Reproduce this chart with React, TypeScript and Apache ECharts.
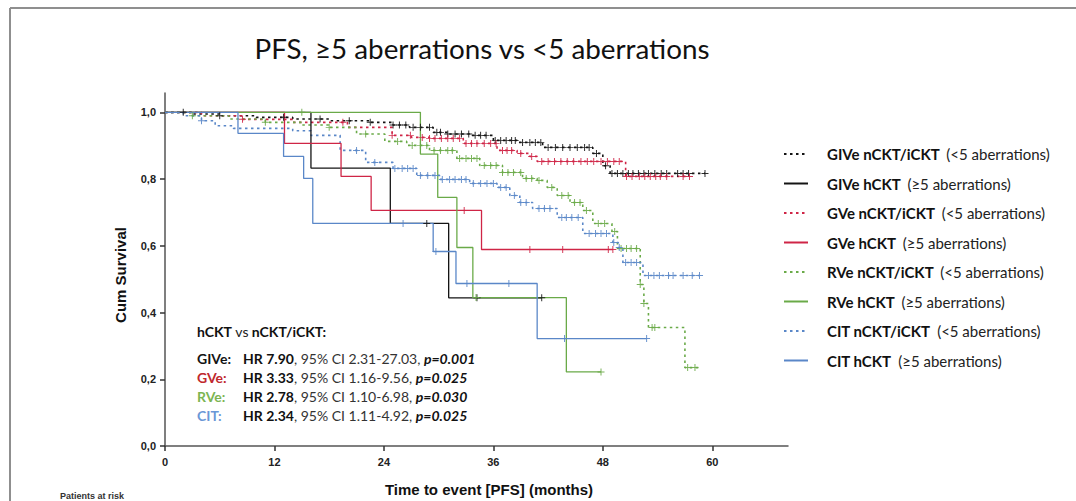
import React, { useEffect, useRef } from "react";
import * as echarts from "echarts";

// ---- Kaplan–Meier step data (months, cumulative survival) ----
// GIVe
const giveNTimes = [0, 3, 6, 10, 14, 18, 22.5, 25, 26.8, 29.4, 31, 33.4, 36, 38.6, 41.4, 46.9, 48, 48.8];
const giveNSurv = [1, 0.995, 0.99, 0.985, 0.98, 0.975, 0.97, 0.962, 0.955, 0.94, 0.935, 0.931, 0.916, 0.91, 0.895, 0.877, 0.84, 0.817];
const giveNEnd = 59.2;
const giveNCens = [2, 6, 13, 17, 20.2, 22.5, 25, 25.7, 26.4, 27.2, 28, 29, 29.8, 30.2, 31, 31.8, 32.5, 33.3, 34, 34.6, 35.2, 36.2, 36.8, 37.4, 38, 38.4, 39.2, 40, 40.6, 41.2, 42, 42.8, 43.6, 44.4, 45.2, 46, 46.5, 47.3, 48.3, 49, 49.6, 50.2, 50.8, 51.3, 51.9, 52.5, 53, 53.7, 54.4, 55, 56.2, 56.8, 57.4, 59.2];

const giveHTimes = [0, 16, 24.7, 31.1];
const giveHSurv = [1, 0.833, 0.667, 0.444];
const giveHEnd = 41.3;
const giveHCens = [28.7, 34.2, 41.3];

// GVe
const gveNTimes = [0, 4, 8.5, 14, 20, 24.9, 27, 29, 32.7, 36.4, 38.6, 40, 40.8, 50.5];
const gveNSurv = [1, 0.99, 0.979, 0.97, 0.955, 0.931, 0.925, 0.922, 0.907, 0.886, 0.877, 0.868, 0.853, 0.808];
const gveNEnd = 57.5;
const gveNCens = [8.5, 19.5, 24.9, 26.9, 28.2, 29, 29.6, 30.3, 31, 31.6, 32.3, 33, 33.6, 34.2, 35, 35.7, 36.3, 37, 37.5, 38, 39, 40.2, 41.3, 42, 42.7, 43.4, 44.1, 44.8, 45.6, 46.3, 47, 47.8, 48.5, 49.2, 49.8, 50.6, 51.2, 52, 52.6, 53.2, 53.8, 54.3, 55, 56.8, 57.5];

const gveHTimes = [0, 13.1, 19.3, 22.6, 34.7];
const gveHSurv = [1, 0.907, 0.808, 0.706, 0.589];
const gveHEnd = 49.1;
const gveHCens = [32.8, 40, 43.6, 48.6, 49.1];

// RVe
const rveNTimes = [0, 3, 7, 11, 15, 18, 21, 24.1, 26.5, 29, 32, 34.5, 37, 39.2, 40.8, 41.9, 43, 44.4, 45.8, 46.9, 49, 49.6, 52.1, 52.5, 53, 57];
const rveNSurv = [1, 0.99, 0.98, 0.97, 0.962, 0.955, 0.935, 0.913, 0.901, 0.886, 0.862, 0.841, 0.82, 0.802, 0.796, 0.775, 0.751, 0.73, 0.706, 0.667, 0.643, 0.592, 0.484, 0.427, 0.355, 0.235];
const rveNEnd = 58.6;
const rveNCens = [3, 11, 18, 22, 25.5, 27.1, 28, 28.7, 29.5, 30.2, 31, 31.5, 32.3, 33, 33.6, 34.2, 35, 35.7, 36.3, 37, 37.6, 38.2, 39, 39.6, 40.2, 41, 42.4, 43.5, 44.2, 44.9, 45.5, 46.2, 47.5, 48.2, 49.3, 50, 50.6, 51.1, 51.7, 52.1, 52.5, 53.4, 53.7, 57.3, 58.1];

const rveHTimes = [0, 28, 29.9, 32, 33.75, 44];
const rveHSurv = [1, 0.875, 0.745, 0.595, 0.445, 0.222];
const rveHEnd = 47.8;
const rveHCens = [15, 34.1, 47.8];

// CIT
const citNTimes = [0, 2, 4, 5.5, 7.5, 14, 16, 19.2, 22, 25, 27.6, 30.1, 33.4, 36.4, 37.8, 38.9, 40.3, 43, 45.8, 49.1, 49.7, 50.2, 52.4];
const citNSurv = [1, 0.99, 0.975, 0.96, 0.952, 0.945, 0.931, 0.886, 0.85, 0.832, 0.811, 0.799, 0.787, 0.775, 0.751, 0.73, 0.712, 0.685, 0.637, 0.61, 0.595, 0.55, 0.511];
const citNEnd = 58.6;
const citNCens = [4, 21, 23, 25.2, 26, 26.6, 27.2, 28, 28.8, 29.6, 30.4, 31.2, 31.8, 32.5, 33, 33.8, 34.6, 35.3, 36, 36.8, 37.4, 38.3, 39, 39.6, 41, 41.6, 42.2, 43.5, 44, 44.6, 45.3, 46.5, 47.2, 47.8, 48.4, 49.2, 49.8, 50.5, 51.1, 51.7, 53, 53.6, 54.2, 55.2, 55.7, 56.8, 57.8, 58.6];

const citHTimes = [0, 8, 13, 15.2, 16.2, 29.4, 31.9, 40.8];
const citHSurv = [1, 0.937, 0.868, 0.802, 0.667, 0.583, 0.487, 0.322];
const citHEnd = 52.8;
const citHCens = [26.1, 29.7, 33.1, 37.7, 43.8, 52.8];

// ---- axis ticks ----
const xTicks = [0, 12, 24, 36, 48, 60];
const yTicks = [0, 0.2, 0.4, 0.6, 0.8, 1.0];

// ---- hazard ratio summary ----
const hrGroups = ["GIVe:", "GVe:", "RVe:", "CIT:"];
const hrValues = ["HR 7.90", "HR 3.33", "HR 2.78", "HR 2.34"];
const hrCIs = ["95% CI 2.31-27.03", "95% CI 1.16-9.56", "95% CI 1.10-6.98", "95% CI 1.11-4.92"];
const hrP = ["p=0.001", "p=0.025", "p=0.030", "p=0.025"];

const C_BLACK = "#141414";
const C_RED = "#cf2546";
const C_GREEN = "#6aaa48";
const C_BLUE = "#5a87c8";
const labelColors = [C_BLACK, "#c0282d", "#7cb552", "#6b97d6"];

const CROSS = "path://M4.3,0h1.4v10h-1.4zM0,4.3h10v1.4h-10z";
const FONT = "Lato, 'Open Sans', sans-serif";
const AXFONT = "'Liberation Sans', Arial, sans-serif";

type Curve = {
  name: string;
  times: number[];
  surv: number[];
  end: number;
  cens: number[];
  color: string;
  dotted: boolean;
};

const curves: Curve[] = [
  { name: "GIVe nCKT/iCKT|(<5 aberrations)", times: giveNTimes, surv: giveNSurv, end: giveNEnd, cens: giveNCens, color: C_BLACK, dotted: true },
  { name: "GIVe hCKT|(≥5 aberrations)", times: giveHTimes, surv: giveHSurv, end: giveHEnd, cens: giveHCens, color: C_BLACK, dotted: false },
  { name: "GVe nCKT/iCKT|(<5 aberrations)", times: gveNTimes, surv: gveNSurv, end: gveNEnd, cens: gveNCens, color: C_RED, dotted: true },
  { name: "GVe hCKT|(≥5 aberrations)", times: gveHTimes, surv: gveHSurv, end: gveHEnd, cens: gveHCens, color: C_RED, dotted: false },
  { name: "RVe nCKT/iCKT|(<5 aberrations)", times: rveNTimes, surv: rveNSurv, end: rveNEnd, cens: rveNCens, color: C_GREEN, dotted: true },
  { name: "RVe hCKT|(≥5 aberrations)", times: rveHTimes, surv: rveHSurv, end: rveHEnd, cens: rveHCens, color: C_GREEN, dotted: false },
  { name: "CIT nCKT/iCKT|(<5 aberrations)", times: citNTimes, surv: citNSurv, end: citNEnd, cens: citNCens, color: C_BLUE, dotted: true },
  { name: "CIT hCKT|(≥5 aberrations)", times: citHTimes, surv: citHSurv, end: citHEnd, cens: citHCens, color: C_BLUE, dotted: false },
];

function survivalAt(times: number[], surv: number[], t: number): number {
  let v = surv[0];
  for (let i = 0; i < times.length; i++) {
    if (times[i] <= t) v = surv[i];
  }
  return v;
}

function buildOption(): echarts.EChartsOption {
  const series: any[] = [];
  curves.forEach((c) => {
    const pts = c.times.map((t, i) => [t, c.surv[i]]);
    pts.push([c.end, c.surv[c.surv.length - 1]]);
    series.push({
      type: "line",
      name: c.name,
      data: pts,
      step: "end",
      symbol: "none",
      color: c.color,
      lineStyle: c.dotted
        ? { color: c.color, width: 1.6, type: [2.5, 3.5] }
        : { color: c.color, width: 1.3, type: "solid" },
      z: c.dotted ? 2 : 3,
    });
    series.push({
      type: "scatter",
      name: c.name + "#cens",
      data: c.cens.map((t) => [t, survivalAt(c.times, c.surv, t)]),
      symbol: CROSS,
      symbolSize: 7,
      itemStyle: { color: c.color, opacity: 0.9 },
      silent: true,
      z: 4,
    });
  });

  const graphics: any[] = [
    // frame
    { type: "line", shape: { x1: 10, y1: 8, x2: 1076, y2: 8 }, style: { stroke: "#8f8f8f", lineWidth: 2 } },
    { type: "line", shape: { x1: 10, y1: 8, x2: 10, y2: 501 }, style: { stroke: "#8f8f8f", lineWidth: 2 } },
    // axis titles
    {
      type: "text",
      x: 120,
      y: 275,
      rotation: Math.PI / 2,
      style: {
        text: "Cum Survival",
        font: `bold 15px ${AXFONT}`,
        fill: "#111",
        align: "center",
        verticalAlign: "middle",
      },
    },
    {
      type: "text",
      x: 489,
      y: 489,
      style: {
        text: "Time to event [PFS] (months)",
        font: `bold 15px ${AXFONT}`,
        fill: "#111",
        align: "center",
        verticalAlign: "middle",
      },
    },
    {
      type: "text",
      x: 60,
      y: 491,
      style: { text: "Patients at risk", font: `bold 9px ${AXFONT}`, fill: "#333", verticalAlign: "top" },
    },
    // HR summary heading
    {
      type: "text",
      x: 197,
      y: 331,
      style: {
        text: "{b|hCKT} {n|vs} {b|nCKT/iCKT:}",
        verticalAlign: "middle",
        rich: {
          b: { font: `bold 14px ${FONT}`, fill: "#111" },
          n: { font: `14px ${FONT}`, fill: "#222" },
        },
      },
    },
  ];

  hrGroups.forEach((g, i) => {
    const y = 358 + i * 19;
    graphics.push({
      type: "text",
      x: 197,
      y,
      style: { text: g, font: `bold 14px ${FONT}`, fill: labelColors[i], verticalAlign: "middle" },
    });
    graphics.push({
      type: "text",
      x: 243,
      y,
      style: {
        text: `{b|${hrValues[i]}}{n|, ${hrCIs[i]}, }{p|${hrP[i]}}`,
        verticalAlign: "middle",
        rich: {
          b: { font: `bold 14px ${FONT}`, fill: "#111" },
          n: { font: `14px ${FONT}`, fill: "#333" },
          p: { font: `italic bold 14px ${FONT}`, fill: "#111" },
        },
      },
    });
  });

  return {
    animation: false,
    backgroundColor: "#ffffff",
    title: {
      text: "PFS, ≥5 aberrations vs <5 aberrations",
      left: 477,
      top: 29,
      textAlign: "center",
      textStyle: { fontFamily: FONT, fontWeight: "normal", fontSize: 27.8, color: "#111" },
    },
    grid: { left: 165, top: 93, width: 623, height: 353, containLabel: false },
    xAxis: {
      type: "value",
      min: 0,
      max: 68.3,
      axisLine: { show: true, lineStyle: { color: "#555", width: 1.5 } },
      axisTick: { show: true, customValues: xTicks, length: 5, lineStyle: { color: "#333", width: 1.5 } },
      axisLabel: {
        customValues: xTicks,
        margin: 10,
        fontFamily: AXFONT,
        fontWeight: "bold",
        fontSize: 11,
        color: "#222",
      },
      splitLine: { show: false },
    },
    yAxis: {
      type: "value",
      min: 0,
      max: 1.058,
      axisLine: { show: true, lineStyle: { color: "#555", width: 1.5 } },
      axisTick: { show: true, customValues: yTicks, length: 5, lineStyle: { color: "#333", width: 1.5 } },
      axisLabel: {
        customValues: yTicks,
        margin: 9,
        fontFamily: AXFONT,
        fontWeight: "bold",
        fontSize: 11,
        color: "#222",
        formatter: (v: number) => v.toFixed(1).replace(".", ","),
      },
      splitLine: { show: false },
    },
    legend: {
      orient: "vertical",
      left: 783,
      top: 145,
      padding: 0,
      itemWidth: 24,
      itemHeight: 14,
      itemGap: 11.5,
      data: curves.map((c) => c.name),
      itemStyle: { opacity: 0 },
      formatter: (name: string) => {
        const [a, b] = name.split("|");
        return `{b|${a}}  {n|${b}}`;
      },
      textStyle: {
        lineHeight: 18,
        rich: {
          b: { fontFamily: FONT, fontWeight: "bold", fontSize: 15, color: "#111", padding: [0, 0, 0, 14] },
          n: { fontFamily: FONT, fontSize: 15, color: "#222" },
        },
      },
    },
    graphic: graphics,
    series,
  };
}

export default function App() {
  const ref = useRef<HTMLDivElement>(null);
  useEffect(() => {
    if (!ref.current) return;
    const chart = echarts.init(ref.current, undefined, { renderer: "svg" });
    chart.setOption(buildOption());
    return () => chart.dispose();
  }, []);
  return (
    <div
      ref={ref}
      style={{ position: "fixed", left: 0, top: 0, width: 1076, height: 501, background: "#fff" }}
    />
  );
}
